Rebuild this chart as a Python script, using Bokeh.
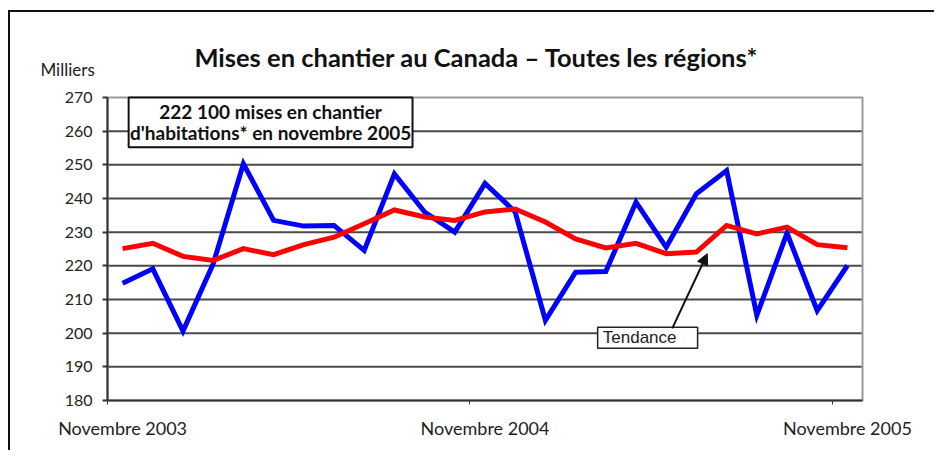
from bokeh.plotting import figure
from bokeh.models import (Range1d, FixedTicker, Label, BoxAnnotation, Arrow,
                          NormalHead, ColumnDataSource)
from bokeh.embed import file_html
from bokeh.resources import INLINE

# ---- data ----
months = ["Nov 2003", "Déc 2003", "Jan 2004", "Fév 2004", "Mar 2004", "Avr 2004",
          "Mai 2004", "Juin 2004", "Juil 2004", "Août 2004", "Sep 2004", "Oct 2004",
          "Nov 2004", "Déc 2004", "Jan 2005", "Fév 2005", "Mar 2005", "Avr 2005",
          "Mai 2005", "Juin 2005", "Juil 2005", "Août 2005", "Sep 2005", "Oct 2005",
          "Nov 2005"]
mises = [214.8, 219.1, 200.6, 220.6, 250.3, 233.5, 231.8, 232.0, 224.6, 247.3,
         236.0, 230.0, 244.5, 236.0, 203.8, 218.1, 218.3, 238.9, 225.5, 241.4,
         248.3, 205.3, 229.7, 206.7, 220.1]
tendance = [225.1, 226.7, 222.8, 221.6, 225.1, 223.3, 226.3, 228.5, 232.5, 236.6,
            234.5, 233.5, 236.0, 236.9, 233.0, 228.0, 225.3, 226.7, 223.6, 224.1,
            232.0, 229.5, 231.5, 226.3, 225.4]
y_ticks = [180, 190, 200, 210, 220, 230, 240, 250, 260, 270]
x_tick_labels = {0.5: "Novembre 2003", 12.5: "Novembre 2004", 24.5: "Novembre 2005"}

title_text = "Mises en chantier au Canada – Toutes les régions*"
unit_text = "Milliers"
note_lines = ["222 100 mises en chantier", "d'habitations* en novembre 2005"]

FONT = "Lato"
N = len(months)
Y0, Y1 = y_ticks[0], y_ticks[-1]

src = ColumnDataSource(dict(x=[i + 0.5 for i in range(N)],
                            m=mises, t=tendance, mois=months))

# the frame covers the whole canvas so that texts outside the plot area show;
# the plot area itself is [0, N] x [Y0, Y1]
p = figure(width=926, height=440, x_range=Range1d(-3.212, 27.45),
           y_range=Range1d(164.55, 295.25), output_backend="svg",
           toolbar_location=None, title_location=None, min_border_left=0,
           min_border_right=0, min_border_top=0, min_border_bottom=0)
p.styles = {"border-left": "2px solid #111", "border-top": "2px solid #111",
            "margin-top": "10px", "margin-left": "8px"}

p.background_fill_color = "white"
p.border_fill_color = "white"
p.outline_line_color = None
p.xgrid.visible = False
p.ygrid.visible = False

# horizontal grid lines across the plot area
grid_vals = y_ticks[1:-1]
p.segment(x0=[0] * len(grid_vals), x1=[N] * len(grid_vals), y0=grid_vals,
          y1=grid_vals, line_color="#4a4a4a", line_width=2, level="underlay")

# plot-area border
p.add_layout(BoxAnnotation(left=0, right=N, bottom=Y0, top=Y1, fill_alpha=0,
                           line_color="#9a9a9a", line_alpha=1.0, line_width=2,
                           level="underlay"))

# y axis drawn at x = 0
p.yaxis.fixed_location = 0
p.yaxis.bounds = (Y0, Y1)
p.yaxis.ticker = FixedTicker(ticks=y_ticks)
p.yaxis.axis_line_color = "#333333"
p.yaxis.axis_line_width = 2
p.yaxis.major_tick_line_color = "#333333"
p.yaxis.major_tick_line_width = 2
p.yaxis.major_tick_out = 5
p.yaxis.major_tick_in = 0
p.yaxis.minor_tick_line_color = None
p.yaxis.major_label_standoff = 10
p.yaxis.major_label_text_font = FONT
p.yaxis.major_label_text_font_size = "16px"
p.yaxis.major_label_text_color = "#222222"

# x axis drawn at y = 180
p.xaxis.fixed_location = Y0
p.xaxis.bounds = (0, N)
p.xaxis.ticker = FixedTicker(ticks=list(x_tick_labels.keys()), minor_ticks=[0, 12, 24])
p.xaxis.major_label_overrides = x_tick_labels
p.xaxis.axis_line_color = "#333333"
p.xaxis.axis_line_width = 2
p.xaxis.major_tick_line_color = None
p.xaxis.minor_tick_line_color = "#333333"
p.xaxis.minor_tick_line_width = 1
p.xaxis.minor_tick_out = 4
p.xaxis.minor_tick_in = 0
p.xaxis.major_tick_out = 4
p.xaxis.major_label_standoff = 13
p.xaxis.major_label_text_font = FONT
p.xaxis.major_label_text_font_size = "18px"
p.xaxis.major_label_text_color = "#222222"

# boxes (underlay: above grid, below series)
p.add_layout(BoxAnnotation(left=0.70, right=10.1, top=270, bottom=255.2,
                           fill_color="white", fill_alpha=1.0, line_alpha=1.0,
                           line_color="#111111", line_width=2, level="underlay"))
p.add_layout(BoxAnnotation(left=16.23, right=19.54, top=201.75, bottom=195.5,
                           fill_color="white", fill_alpha=1.0, line_alpha=1.0,
                           line_color="#222222", line_width=1.5, level="underlay"))

# series
p.line("x", "m", source=src, line_color="#0000FF", line_width=5, line_join="miter")
p.line("x", "t", source=src, line_color="#FF0000", line_width=5, line_join="miter")

# title and unit
p.add_layout(Label(x=12.22, y=281.9, text=title_text, text_align="center",
                   text_baseline="middle", text_font=FONT, text_font_style="bold",
                   text_font_size="25.5px", text_color="#111111"))
p.add_layout(Label(x=-2.22, y=278.3, text=unit_text, text_align="left",
                   text_baseline="middle", text_font=FONT, text_font_size="17px",
                   text_color="#222222"))

# note text
p.add_layout(Label(x=5.40, y=265.85, text=note_lines[0], text_align="center",
                   text_baseline="middle", text_font=FONT, text_font_style="bold",
                   text_font_size="19px", text_color="#111111"))
p.add_layout(Label(x=5.40, y=259.6, text=note_lines[1], text_align="center",
                   text_baseline="middle", text_font=FONT, text_font_style="bold",
                   text_font_size="19px", text_color="#111111"))

# Tendance callout
p.add_layout(Label(x=16.4, y=198.6, text="Tendance", text_align="left",
                   text_baseline="middle", text_font="Liberation Sans",
                   text_font_size="17px", text_color="#222222"))
p.add_layout(Arrow(x_start=18.70, y_start=201.4, x_end=19.86, y_end=223.6,
                   line_color="#111111", line_width=2,
                   end=NormalHead(size=11, fill_color="#111111", line_color="#111111")))

open("out.html", "w").write(file_html(p, INLINE))
